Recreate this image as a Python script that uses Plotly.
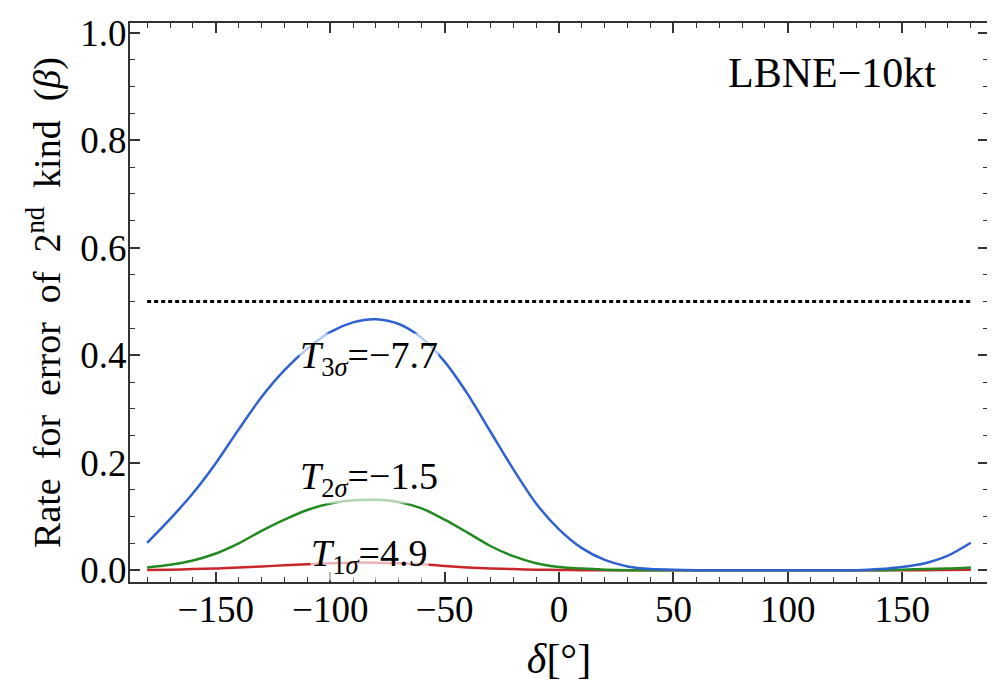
import plotly.graph_objects as go

delta = list(range(-180, 181, 10))
beta_3sigma = [0.051, 0.095, 0.143, 0.199, 0.262, 0.322, 0.372, 0.412, 0.443, 0.461, 0.467,
               0.458, 0.432, 0.388, 0.328, 0.258, 0.188, 0.124, 0.076, 0.041, 0.019, 0.007,
               0.002, 0.001, 0.0, 0.0, 0.0, 0.0, 0.0, 0.0, 0.0, 0.0, 0.002, 0.006, 0.013,
               0.027, 0.051]
beta_2sigma = [0.005, 0.01, 0.018, 0.031, 0.05, 0.073, 0.094, 0.112, 0.124, 0.13, 0.131,
               0.127, 0.115, 0.094, 0.07, 0.045, 0.026, 0.013, 0.006, 0.003, 0.001, 0.0,
               0.0, 0.0, 0.0, 0.0, 0.0, 0.0, 0.0, 0.0, 0.0, 0.0, 0.0, 0.001, 0.002, 0.003,
               0.005]
beta_1sigma = [0.0005, 0.001, 0.002, 0.003, 0.005, 0.007, 0.009, 0.011, 0.013, 0.014, 0.014,
               0.013, 0.011, 0.008, 0.005, 0.003, 0.002, 0.001, 0.0005, 0.0, 0.0, 0.0,
               0.0, 0.0, 0.0, 0.0, 0.0, 0.0, 0.0, 0.0, 0.0, 0.0, 0.0, 0.0, 0.0, 0.0005,
               0.001]
ref_x = [-180, 180]
ref_y = [0.5, 0.5]

labels = ["<i>T</i><sub>3<i>σ</i></sub>=−7.7", "<i>T</i><sub>2<i>σ</i></sub>=−1.5",
          "<i>T</i><sub>1<i>σ</i></sub>=4.9"]
label_x = [-83, -83, -83]
label_y = [0.395, 0.17, 0.027]

FONT = "Liberation Serif, Times New Roman, serif"
SP = " \u00a0"

fig = go.Figure()
fig.add_trace(go.Scatter(x=ref_x, y=ref_y, mode="lines",
                         line=dict(color="black", width=3, dash="4px,3px"), hoverinfo="skip"))
fig.add_trace(go.Scatter(x=delta, y=beta_1sigma, mode="lines",
                         line=dict(color="#c8262a", width=2.5, shape="spline", smoothing=0.8)))
fig.add_trace(go.Scatter(x=delta, y=beta_2sigma, mode="lines",
                         line=dict(color="#218a21", width=2.5, shape="spline", smoothing=0.8)))
fig.add_trace(go.Scatter(x=delta, y=beta_3sigma, mode="lines",
                         line=dict(color="#2f62d0", width=2.5, shape="spline", smoothing=0.8)))

for t, lx, ly in zip(labels, label_x, label_y):
    fig.add_annotation(x=lx, y=ly, text=t, showarrow=False,
                       font=dict(family=FONT, size=38, color="black"),
                       bgcolor="rgba(255,255,255,0.65)", borderpad=0)

fig.add_annotation(x=0.942, y=0.91, xref="paper", yref="paper", text="LBNE−10kt",
                   showarrow=False, xanchor="right", yanchor="middle",
                   font=dict(family=FONT, size=42, color="black"))

axis_common = dict(showline=True, linecolor="#333333", linewidth=2, mirror="ticks",
                   ticks="inside", ticklen=10, tickwidth=1.5, tickcolor="#333333",
                   showgrid=False, zeroline=False, ticklabeloverflow="allow",
                   tickfont=dict(family=FONT, size=37, color="black"))

fig.update_xaxes(range=[-187.5, 187.5], tickvals=[-150, -100, -50, 0, 50, 100, 150],
                 ticktext=["−150", "−100", "−50", "0", "50", "100", "150"],
                 minor=dict(dtick=10, ticks="inside", ticklen=5, tickcolor="#333333", tickwidth=1.2),
                 ticklabelstandoff=-6,
                 title=dict(text="<i>δ</i>[°]", font=dict(family=FONT, size=42, color="black"),
                            standoff=14),
                 **axis_common)
fig.update_yaxes(range=[-0.022, 1.018], tickvals=[0, 0.2, 0.4, 0.6, 0.8, 1.0],
                 ticktext=["0.0", "0.2", "0.4", "0.6", "0.8", "1.0"],
                 minor=dict(dtick=0.05, ticks="inside", ticklen=5, tickcolor="#333333", tickwidth=1.2),
                 ticklabelstandoff=-6,
                 title=dict(text="Rate" + SP + "for" + SP + "error" + SP + "of" + SP + "2<sup>nd</sup>"
                                 + SP + "kind" + SP + "(<i>β</i>)",
                            font=dict(family=FONT, size=38, color="black"), standoff=8),
                 **axis_common)

fig.update_layout(width=987, height=688, margin=dict(l=122, r=5, t=6, b=114),
                  font=dict(family=FONT, size=35, color="black"),
                  plot_bgcolor="white", paper_bgcolor="white", showlegend=False)

fig.write_html("out.html")
